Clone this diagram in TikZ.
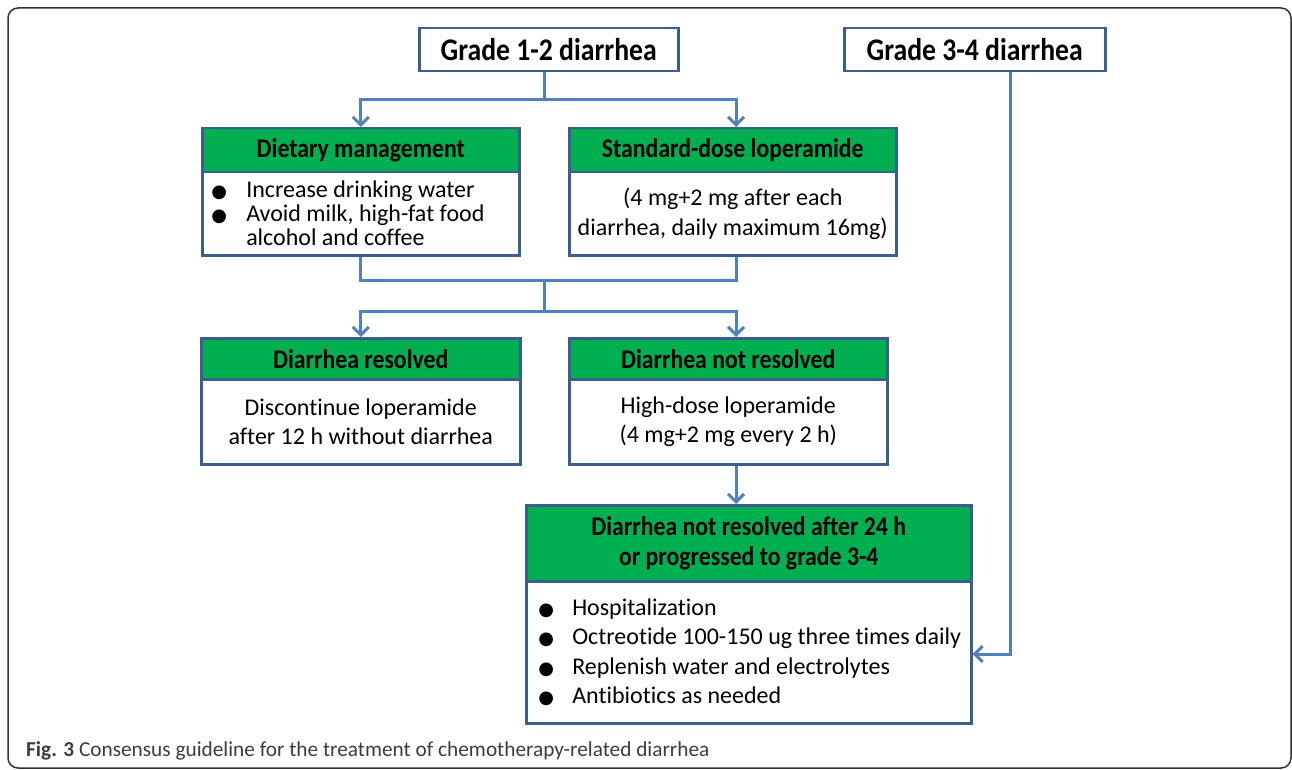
\documentclass[tikz,border=0pt]{standalone}
\usepackage{fontspec}
\setmainfont{Carlito}[Ligatures=NoCommon]
\newfontfamily\hdfont{Carlito}[FakeStretch=0.88, Ligatures=NoCommon]
\newfontfamily\bulfont{DejaVu Sans}
\usetikzlibrary{arrows.meta}
\definecolor{connblue}{HTML}{4F81BD}
\definecolor{boxblue}{HTML}{3A5F8F}
\definecolor{hdrgreen}{HTML}{00B050}
\definecolor{capgray}{HTML}{3C3C3C}
\definecolor{framegray}{HTML}{333333}
\newcommand{\bul}[1]{\makebox[#1][l]{\bulfont\fontsize{18pt}{18pt}\selectfont ●}}
\begin{document}
\begin{tikzpicture}[x=1pt,y=-1pt,
  box/.style={draw=boxblue, line width=2.5pt, anchor=north west, inner sep=0pt, align=center},
  hdr/.style={box, fill=hdrgreen, font=\hdfont\fontsize{27pt}{30pt}\selectfont\bfseries},
  bodytext/.style={box, fill=white},
  topbox/.style={box, fill=white, font=\hdfont\fontsize{31.5pt}{34pt}\selectfont\bfseries},
  conn/.style={draw=connblue, line width=3pt},
  arr/.style={conn, -{Straight Barb[length=8pt,width=16pt]}}]
\useasboundingbox (0,0) rectangle (1292,770);
\draw[framegray, line width=1.5pt, rounded corners=10pt] (8,8) rectangle (1291,768);

% top boxes
\node[topbox, minimum width=259pt, minimum height=43pt] (g12) at (418,27) {Grade 1-2 diarrhea};
\node[topbox, minimum width=261pt, minimum height=43pt] (g34) at (843,27) {Grade 3-4 diarrhea};

% second row
\node[hdr, minimum width=317pt, minimum height=44pt] (dh) at (201,127) {Dietary management};
\node[bodytext, minimum width=317pt, minimum height=83pt, text width=317pt, align=flush left,
      font=\fontsize{24pt}{24pt}\selectfont] (db) at (201,171)
  {\hspace*{9pt}\bul{35pt}Increase drinking water\\
   \hspace*{9pt}\bul{35pt}Avoid milk, high-fat food\\
   \hspace*{44pt}alcohol and coffee};
\node[hdr, minimum width=327pt, minimum height=44pt] (sh) at (568,127) {Standard-dose loperamide};
\node[bodytext, minimum width=327pt, minimum height=83pt,
      font=\fontsize{24pt}{30pt}\selectfont] (sb) at (568,171)
  {(4 mg+2 mg after each\\ diarrhea, daily maximum 16mg)};

% third row
\node[hdr, minimum width=319pt, minimum height=41pt] (rh) at (200,337) {Diarrhea resolved};
\node[bodytext, minimum width=319pt, minimum height=85pt,
      font=\fontsize{24pt}{29pt}\selectfont] (rb) at (200,378)
  {Discontinue loperamide\\ after 12 h without diarrhea};
\node[hdr, minimum width=318pt, minimum height=41pt] (nh) at (568,337) {Diarrhea not resolved};
\node[bodytext, minimum width=318pt, minimum height=85pt,
      font=\fontsize{24pt}{29pt}\selectfont] (nb) at (568,378)
  {High-dose loperamide\\ (4 mg+2 mg every 2 h)};

% bottom box
\node[hdr, minimum width=445pt, minimum height=76pt] (bh) at (525,504)
  {Diarrhea not resolved after 24 h\\ or progressed to grade 3-4};
\node[bodytext, minimum width=445pt, minimum height=142pt, text width=445pt, align=flush left,
      font=\fontsize{24pt}{29.3pt}\selectfont] (bb) at (525,580)
  {\hspace*{12pt}\bul{34pt}Hospitalization\\
   \hspace*{12pt}\bul{34pt}\mbox{Octreotide 100-150 ug three times daily}\\
   \hspace*{12pt}\bul{34pt}Replenish water and electrolytes\\
   \hspace*{12pt}\bul{34pt}Antibiotics as needed};

% connectors
\coordinate (j1) at (544,100);
\coordinate (j2) at (544,280);
\coordinate (j3) at (544,311);
\coordinate (ja) at (736,100);
\coordinate (j4) at (1010,654);
\draw[conn] (j1 |- g12.south) -- (j1);
\draw[arr] (j1) -| (dh.north);
\draw[arr] (j1) -- (ja) -- (ja |- sh.north);
\draw[conn] (db.south) |- (j2) -| (ja |- sb.south);
\draw[conn] (j2) -- (j3);
\draw[arr] (j3) -| (rh.north);
\draw[arr] (j3) -| (ja |- nh.north);
\draw[arr] (ja |- nb.south) -- (ja |- bh.north);
\draw[arr] (j4 |- g34.south) -- (j4) -- (j4 -| bb.east);

% caption
\node[anchor=base west, text=capgray, inner sep=0pt, font=\fontsize{21.3pt}{24pt}\selectfont] (cap) at (26,756)
  {\textbf{Fig. 3} Consensus guideline for the treatment of chemotherapy-related diarrhea};
\end{tikzpicture}
\end{document}
